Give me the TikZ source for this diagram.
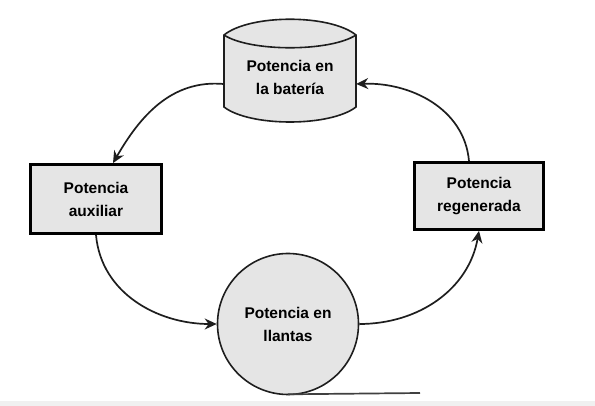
\documentclass[tikz,border=0pt]{standalone}
\usepackage{fontspec}
\setmainfont{Liberation Sans}
\usetikzlibrary{arrows.meta}
\definecolor{fillgray}{RGB}{229,229,229}
\definecolor{linedark}{RGB}{30,30,30}
\tikzset{
  lbl/.style={font=\bfseries\fontsize{15.5}{23}\selectfont, align=center, text=black, inner sep=0pt},
  thickbox/.style={lbl, draw=black, line width=2.8pt, fill=fillgray, rectangle},
  roundnode/.style={lbl, draw=linedark, line width=1.6pt, fill=fillgray, circle},
  conn/.style={draw=linedark, line width=1.7pt, -{Stealth[length=12pt,width=11pt]}},
}
\begin{document}
\begin{tikzpicture}[x=1pt,y=-1pt]
\useasboundingbox (0,0) rectangle (595,406);
\fill[white] (0,0) rectangle (595,406);
\fill[black!6] (0,401) rectangle (595,406);
% battery shape
\draw[draw=linedark, line width=1.6pt, fill=fillgray]
  (224,35) .. controls (250,14) and (330,14) .. (356,35) -- (356,107)
  .. controls (330,127) and (250,127) .. (224,107) -- cycle;
\draw[draw=linedark, line width=1.6pt]
  (224,35) .. controls (250,52) and (330,52) .. (356,35);
\node[lbl, minimum width=132pt] (bat) at (290,77) {Potencia en\\la batería};
% boxes
\node[thickbox, minimum width=131pt, minimum height=69pt] (aux) at (96,199) {Potencia\\auxiliar};
\node[thickbox, minimum width=129pt, minimum height=67pt] (reg) at (479,196) {Potencia\\regenerada};
% wheel
\node[roundnode, minimum size=141pt] (ll) at (288,324) {Potencia en\\llantas};
\coordinate (ground) at (420,393);
\draw[draw=linedark!85, line width=1.7pt] (ll.south) ++(0,-1) -- (ground);
% connectors
\draw[conn] ([yshift=-7pt]bat.west) to[out=175, in=60] ([xshift=17pt]aux.north);
\draw[conn] (aux.south) to[out=-85, in=180] (ll.west);
\draw[conn] (ll.east) to[out=0, in=-100] (reg.south);
\draw[conn] ([xshift=-10pt]reg.north) to[out=95, in=2] ([yshift=-7pt]bat.east);
\end{tikzpicture}
\end{document}
